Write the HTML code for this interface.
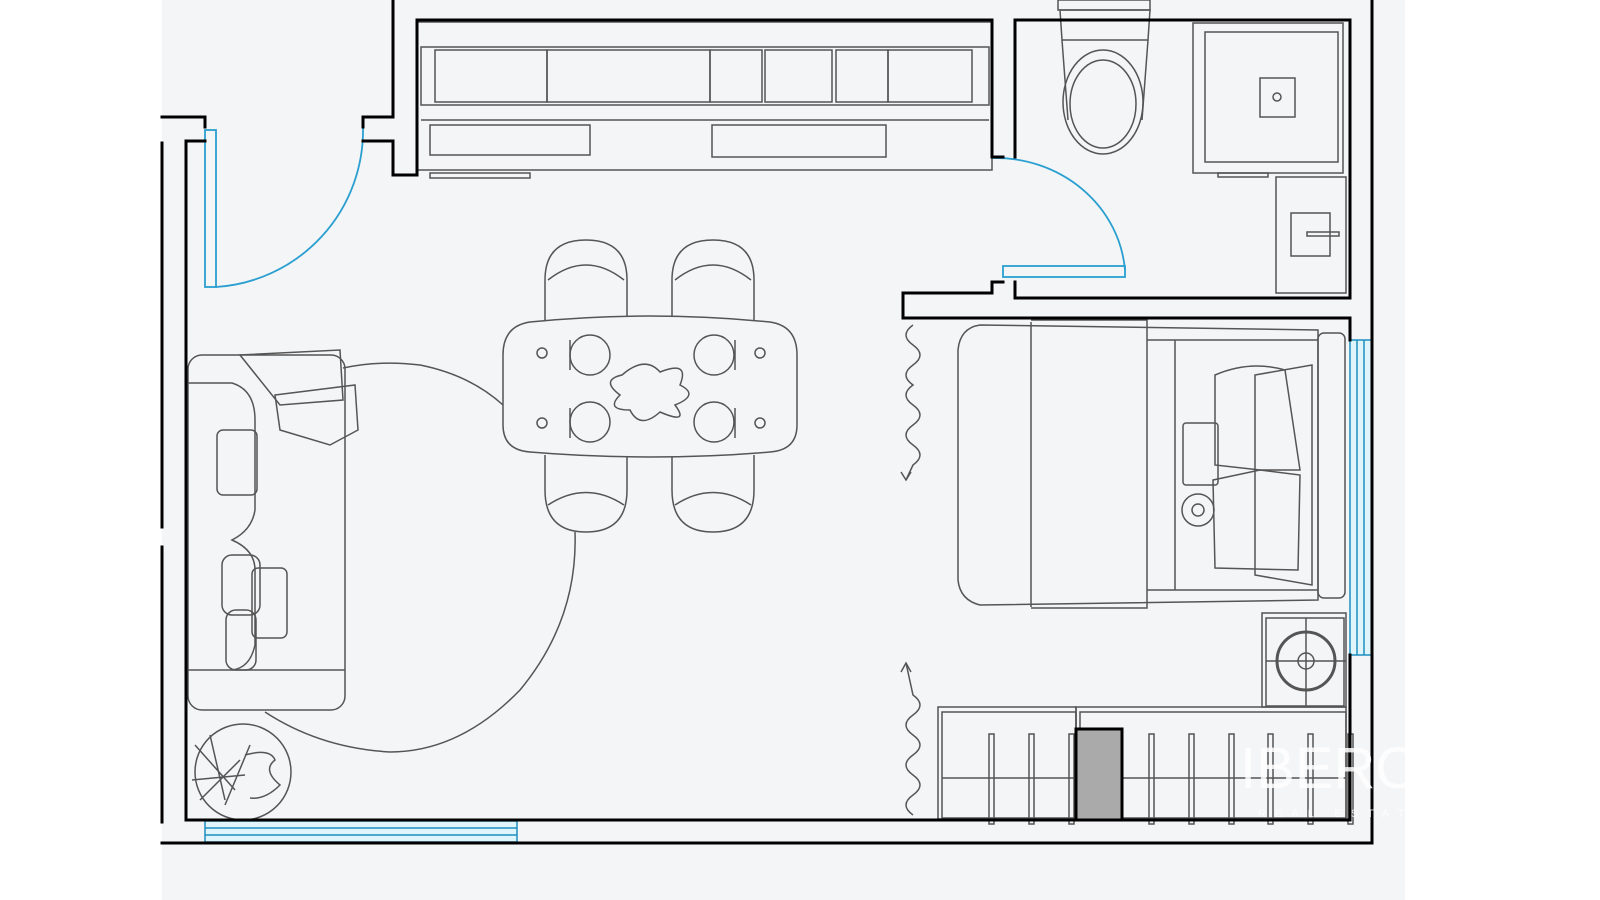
<!DOCTYPE html>
<html><head><meta charset="utf-8"><style>
html,body{margin:0;padding:0;background:#fff;}
svg{display:block;}
</style></head><body>
<svg width="1600" height="900" viewBox="0 0 1600 900" xmlns="http://www.w3.org/2000/svg">
<rect x="0" y="0" width="1600" height="900" fill="#fff"/>
<rect x="162" y="0" width="1243" height="900" fill="#f4f5f7"/>

<g fill="none" stroke="#555" stroke-width="1.5">
  <rect x="417" y="22" width="575" height="148"/>
  <rect x="421" y="47" width="568" height="58"/>
  <rect x="435" y="50" width="112" height="52"/>
  <rect x="547" y="50" width="163" height="52"/>
  <rect x="710" y="50" width="52" height="52"/>
  <rect x="765" y="50" width="67" height="52"/>
  <rect x="836" y="50" width="52" height="52"/>
  <rect x="888" y="50" width="84" height="52"/>
  <line x1="421" y1="120" x2="989" y2="120"/>
  <rect x="430" y="125" width="160" height="30"/>
  <rect x="712" y="125" width="174" height="32"/>
  <rect x="430" y="173" width="100" height="5"/>
  <rect x="1058" y="0" width="92" height="10"/>
  <path d="M1060 10 L1150 10 L1148 40 L1062 40 Z"/>
  <path d="M1062 40 L1068 120 M1148 40 L1142 120"/>
  <ellipse cx="1103" cy="102" rx="40" ry="52"/>
  <ellipse cx="1103" cy="104" rx="33" ry="44"/>
  <rect x="1193" y="23" width="150" height="150"/>
  <rect x="1205" y="32" width="133" height="130"/>
  <rect x="1260" y="78" width="35" height="39"/>
  <circle cx="1277" cy="97" r="4"/>
  <rect x="1218" y="173" width="50" height="4"/>
  <rect x="1276" y="177" width="70" height="116"/>
  <rect x="1291" y="213" width="39" height="43"/>
  <rect x="1307" y="232" width="32" height="4"/>
  <path d="M545 320 L545 280 Q545 240 586 240 Q627 240 627 280 L627 320"/>
  <path d="M548 280 Q586 250 624 280"/>
  <path d="M672 320 L672 280 Q672 240 713 240 Q754 240 754 280 L754 320"/>
  <path d="M675 280 Q713 250 751 280"/>
  <path d="M545 455 L545 490 Q545 532 586 532 Q627 532 627 490 L627 455"/>
  <path d="M548 505 Q586 480 624 505"/>
  <path d="M672 455 L672 490 Q672 532 713 532 Q754 532 754 490 L754 455"/>
  <path d="M675 505 Q713 480 751 505"/>
  <path d="M530 322 Q650 310 770 322 Q797 326 797 355 L797 425 Q797 450 770 452 Q650 462 530 452 Q503 450 503 425 L503 355 Q503 326 530 322 Z" fill="#f4f5f7"/>
  <circle cx="542" cy="353" r="5"/><circle cx="542" cy="423" r="5"/>
  <circle cx="760" cy="353" r="5"/><circle cx="760" cy="423" r="5"/>
  <ellipse cx="590" cy="355" rx="20" ry="20"/><ellipse cx="590" cy="422" rx="20" ry="20"/>
  <ellipse cx="714" cy="355" rx="20" ry="20"/><ellipse cx="714" cy="422" rx="20" ry="20"/>
  <path d="M622 375 Q645 355 660 372 Q690 360 680 385 Q700 395 675 405 Q690 425 660 412 Q640 430 630 410 Q605 410 620 395 Q600 380 622 375 Z"/>
  <line x1="570" y1="340" x2="570" y2="370"/><line x1="570" y1="408" x2="570" y2="438"/>
  <line x1="735" y1="340" x2="735" y2="370"/><line x1="735" y1="408" x2="735" y2="438"/>
  <path d="M343 368 Q380 360 420 365 Q470 375 503 405 M575 532 Q578 620 520 690 Q460 752 390 752 Q320 748 265 712"/>
  <rect x="188" y="355" width="157" height="355" rx="14"/>
  <path d="M188 383 L232 383 Q255 390 255 420 L255 510 Q252 530 232 540 Q255 550 255 570 L255 645 Q250 668 232 670"/>
  <line x1="188" y1="670" x2="345" y2="670"/>
  <path d="M240 355 L340 350 L343 400 L280 405 Z"/>
  <path d="M275 395 L355 385 L358 430 L330 445 L280 430 Z"/>
  <rect x="217" y="430" width="40" height="65" rx="6"/>
  <rect x="222" y="555" width="38" height="60" rx="10"/>
  <rect x="252" y="568" width="35" height="70" rx="6"/>
  <rect x="226" y="610" width="30" height="60" rx="10"/>
  <circle cx="243" cy="772" r="48"/>
  <path d="M195 745 L235 790 M200 800 L240 760 M210 735 L225 800 M250 745 L225 805 M192 780 L245 775"/>
  <path d="M245 755 Q270 748 275 760 Q262 770 280 785 Q265 800 250 798"/>
  <path d="M913 325 q-14 10 0 20 q14 10 0 20 q-14 10 0 20 q-14 10 0 20 q14 10 0 20 q-14 10 0 20 q14 10 0 20 L906 480"/>
  <path d="M901 472 L906 480 L911 472"/>
  <path d="M913 815 q-14 -10 0 -20 q14 -10 0 -20 q-14 -10 0 -20 q14 -10 0 -20 q-14 -10 0 -20 q14 -10 0 -20 L906 663"/>
  <path d="M901 672 L906 663 L911 672"/>
  <path d="M980 325 L1318 330 L1318 600 L980 605 Q960 600 958 580 L958 350 Q960 328 980 325 Z"/>
  <line x1="1031" y1="322" x2="1031" y2="607"/>
  <path d="M1031 320 L1147 320 L1147 608 L1031 608"/>
  <line x1="1175" y1="340" x2="1175" y2="590"/>
  <line x1="1147" y1="340" x2="1318" y2="340"/>
  <line x1="1147" y1="590" x2="1318" y2="590"/>
  <rect x="1318" y="333" width="27" height="265" rx="6"/>
  <path d="M1215 375 Q1250 360 1285 370 L1300 470 L1260 470 L1215 465 Z"/>
  <path d="M1255 375 L1312 365 L1312 585 L1255 575 Z"/>
  <path d="M1213 480 L1260 470 L1300 475 L1298 570 L1215 568 Z"/>
  <rect x="1183" y="423" width="35" height="62" rx="3"/>
  <circle cx="1198" cy="510" r="16"/><circle cx="1198" cy="510" r="6"/>
  <rect x="1262" y="613" width="84" height="94"/>
  <rect x="1266" y="618" width="78" height="88"/>
  <circle cx="1306" cy="661" r="29" stroke-width="3"/>
  <circle cx="1306" cy="661" r="8"/>
  <line x1="1266" y1="661" x2="1346" y2="661"/><line x1="1306" y1="618" x2="1306" y2="706"/>
  <rect x="938" y="707" width="138" height="112"/>
  <rect x="942" y="712" width="134" height="106"/>
  <rect x="1076" y="707" width="270" height="112"/>
  <rect x="1080" y="712" width="266" height="106"/>
  <line x1="942" y1="778" x2="1076" y2="778"/>
  <line x1="1122" y1="778" x2="1346" y2="778"/>
  <rect x="989" y="734" width="5" height="90"/><rect x="1029" y="734" width="5" height="90"/><rect x="1069" y="734" width="5" height="90"/>
  <rect x="1149" y="734" width="5" height="90"/><rect x="1189" y="734" width="5" height="90"/><rect x="1229" y="734" width="5" height="90"/>
  <rect x="1268" y="734" width="5" height="90"/><rect x="1308" y="734" width="5" height="90"/><rect x="1348" y="734" width="5" height="90"/>
</g>
<rect x="1076" y="729" width="46" height="91" fill="#aaa" stroke="#000" stroke-width="3"/>

<g fill="#dff4fb" stroke="#1f8fc0" stroke-width="1.5">
  <rect x="205" y="821" width="312" height="21"/>
  <line x1="205" y1="828" x2="517" y2="828"/><line x1="205" y1="835" x2="517" y2="835"/>
  <rect x="1350" y="340" width="22" height="315"/>
  <line x1="1357" y1="340" x2="1357" y2="655"/><line x1="1364" y1="340" x2="1364" y2="655"/>
</g>
<g fill="none" stroke="#2a9fd0" stroke-width="1.8">
  <rect x="205" y="130" width="11" height="157"/>
  <path d="M363 127 A157 157 0 0 1 216 287"/>
  <rect x="1003" y="266" width="122" height="11"/>
  <path d="M992 158 A130 122 0 0 1 1125 270"/>
</g>

<g fill="none" stroke="#000" stroke-width="3" stroke-linecap="square">
  <path d="M162 117 L205 117 L205 127"/>
  <path d="M162 143 L162 527 M162 547 L162 822"/>
  <path d="M205 141 L186 141 L186 820 L1350 820"/>
  <path d="M162 843 L1372 843 L1372 0"/>
  <path d="M363 127 L363 117 L393 117 L393 0"/>
  <path d="M363 141 L393 141 L393 175 L417 175 L417 20 L992 20 L992 157 L1003 157"/>
  <path d="M1015 157 L1015 20 L1350 20 L1350 298 L1015 298 L1015 282"/>
  <path d="M992 282 L1003 282 M992 282 L992 293 L903 293 L903 318 L1350 318 L1350 340"/>
  <path d="M1350 655 L1350 820"/>
</g>
<text x="1240" y="788" font-family="Liberation Sans, sans-serif" font-size="58" fill="#ffffff" opacity="0.85">IBERO</text>
<text x="1258" y="817" font-family="Liberation Sans, sans-serif" font-size="11" letter-spacing="9" fill="#ffffff" opacity="0.85">REAL ESTATE</text>
</svg>
</body></html>
